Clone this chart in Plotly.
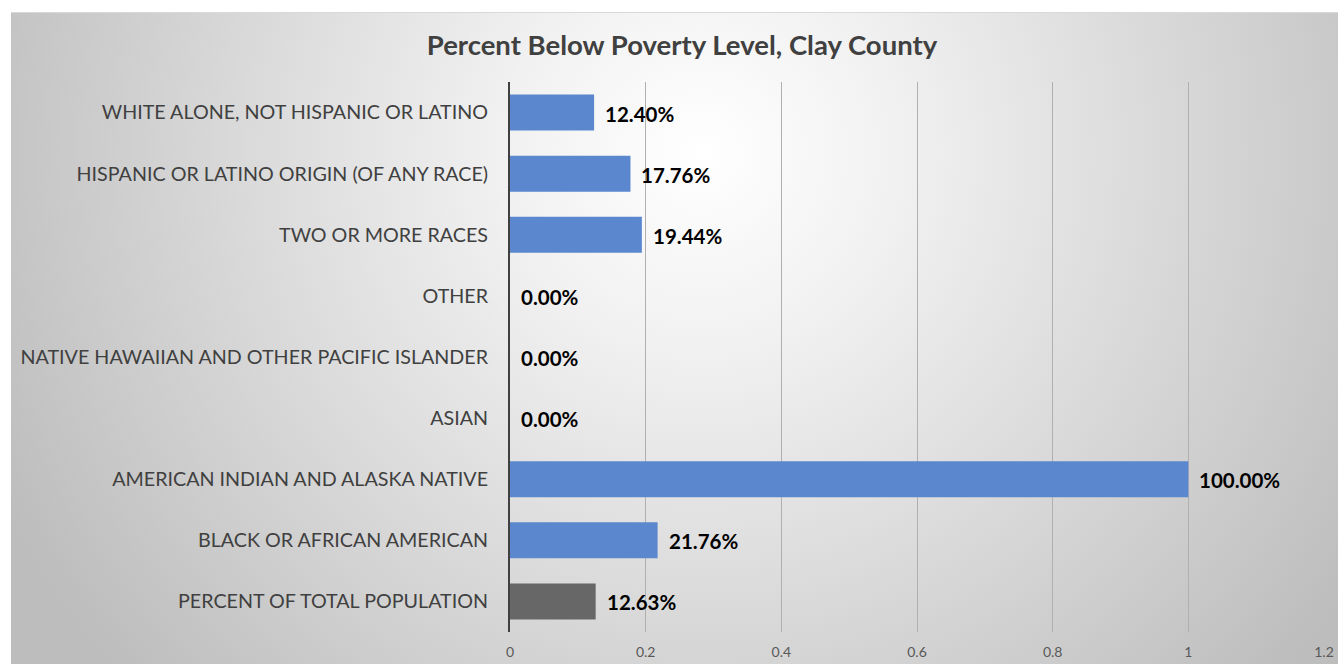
import base64
import plotly.graph_objects as go

# Categories listed bottom-to-top as they appear on the y axis
categories = [
    "PERCENT OF TOTAL POPULATION",
    "BLACK OR AFRICAN AMERICAN",
    "AMERICAN INDIAN AND ALASKA NATIVE",
    "ASIAN",
    "NATIVE HAWAIIAN AND OTHER PACIFIC ISLANDER",
    "OTHER",
    "TWO OR MORE RACES",
    "HISPANIC OR LATINO ORIGIN (OF ANY RACE)",
    "WHITE ALONE, NOT HISPANIC OR LATINO",
]
values = [0.1263, 0.2176, 1.0, 0.0, 0.0, 0.0, 0.1944, 0.1776, 0.1240]
x_ticks = [0, 0.2, 0.4, 0.6, 0.8, 1, 1.2]
x_tick_labels = ["0", "0.2", "0.4", "0.6", "0.8", "1", "1.2"]

BLUE = "#5b87cf"
GRAY = "#676767"
bar_colors = [GRAY] + [BLUE] * (len(categories) - 1)

FONT = "Lato, 'Open Sans', sans-serif"

W, H = 1338, 664
L, R, T, B = 510, 14, 82, 32
PW, PH = W - L - R, H - T - B

# Radial-gradient backdrop for the chart area
bg_x0, bg_y0 = 11, 12
bg_w, bg_h = W - bg_x0, H - bg_y0
svg = f"""<svg xmlns='http://www.w3.org/2000/svg' width='{bg_w}' height='{bg_h}' viewBox='0 0 {bg_w} {bg_h}' preserveAspectRatio='none'>
<defs><radialGradient id='g' gradientUnits='userSpaceOnUse' cx='690' cy='140' r='780'>
<stop offset='0' stop-color='#ffffff'/><stop offset='0.25' stop-color='#f1f1f1'/>
<stop offset='1' stop-color='#bdbdbd'/></radialGradient></defs>
<rect x='0' y='0' width='{bg_w}' height='{bg_h}' fill='url(#g)'/>
<line x1='0' y1='0.5' x2='{bg_w}' y2='0.5' stroke='#d9d9d9' stroke-width='1'/>
</svg>"""
bg_src = "data:image/svg+xml;base64," + base64.b64encode(svg.encode()).decode()

fig = go.Figure(
    go.Bar(
        x=values,
        y=categories,
        orientation="h",
        marker=dict(color=bar_colors, line=dict(width=0)),
        width=0.59,
        hoverinfo="skip",
    )
)

# Value labels placed just past each bar end
for cat, val in zip(categories, values):
    fig.add_annotation(
        x=val, y=cat, xref="x", yref="y",
        text=f"{val * 100:.2f}%",
        showarrow=False, xanchor="left", yanchor="middle",
        xshift=9, yshift=-1,
        font=dict(family=FONT, size=20.5, color="#000000", weight="bold"),
    )

fig.add_layout_image(
    source=bg_src, xref="paper", yref="paper",
    x=(bg_x0 - L) / PW, y=(H - B - bg_y0) / PH,
    sizex=bg_w / PW, sizey=bg_h / PH,
    xanchor="left", yanchor="top", sizing="stretch", layer="below",
)

fig.update_layout(
    width=W, height=H,
    margin=dict(l=L, r=R, t=T, b=B, autoexpand=False),
    paper_bgcolor="#ffffff",
    plot_bgcolor="rgba(0,0,0,0)",
    showlegend=False,
    title=dict(
        text="Percent Below Poverty Level, Clay County",
        x=682 / W, xanchor="center", y=1 - 45 / H, yanchor="middle",
        font=dict(family=FONT, size=27.5, color="#404040", weight="bold"),
    ),
    xaxis=dict(
        range=[0, 1.2],
        tickvals=x_ticks, ticktext=x_tick_labels,
        showgrid=True, gridcolor="#b0b0b0", gridwidth=1,
        zeroline=False, showline=False, ticks="",
        tickfont=dict(family=FONT, size=14, color="#595959"),
        ticklabelstandoff=10,
        automargin=False,
        fixedrange=True,
    ),
    yaxis=dict(
        categoryorder="array", categoryarray=categories,
        range=[-0.5, len(categories) - 0.5],
        showline=True, linecolor="#404040", linewidth=2,
        showgrid=False, ticks="",
        tickfont=dict(family=FONT, size=19.7, color="#404040"),
        ticklabelstandoff=16,
        automargin=False,
        fixedrange=True,
    ),
)

fig.write_html("out.html")
